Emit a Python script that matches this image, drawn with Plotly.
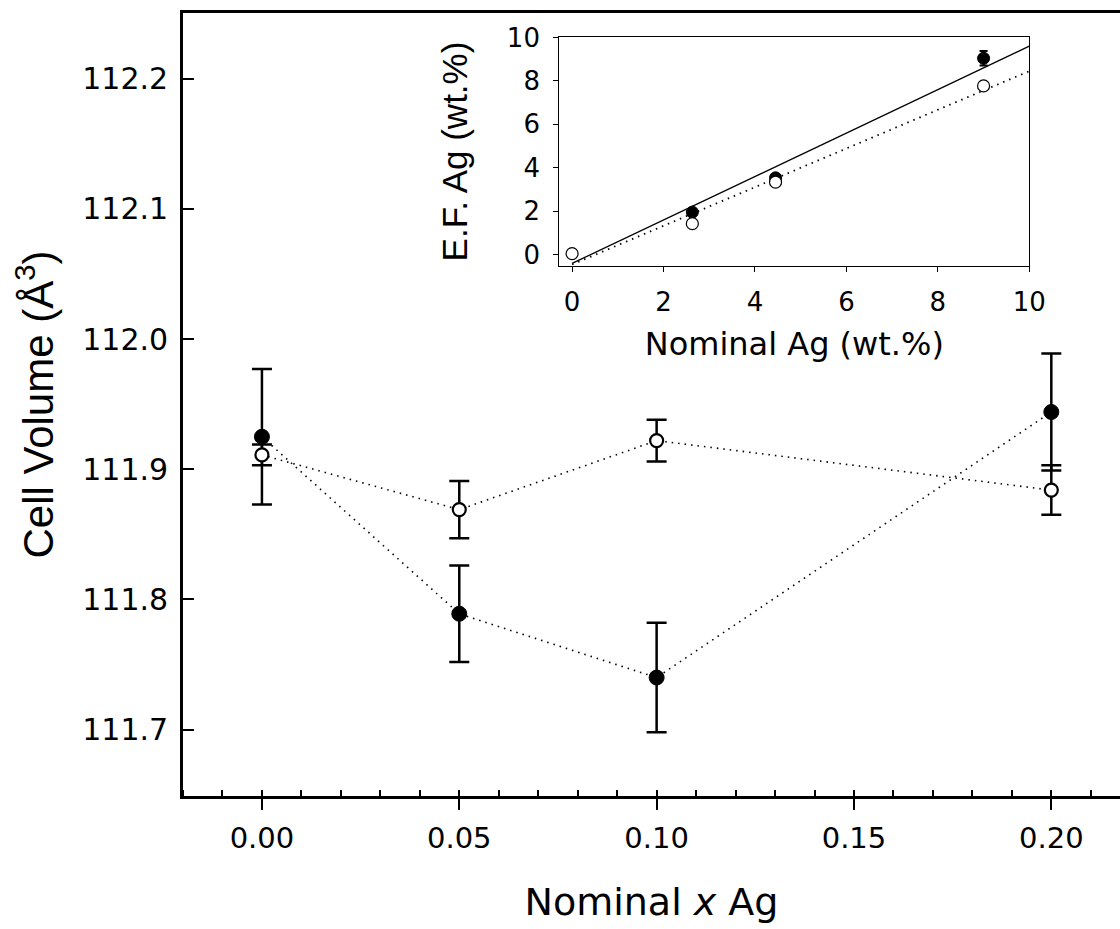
import plotly.graph_objects as go

# ---- main plot data ----
x_nominal = [0.00, 0.05, 0.10, 0.20]
vol_filled = [111.925, 111.789, 111.740, 111.944]
err_filled = [0.052, 0.037, 0.042, 0.045]
vol_open = [111.911, 111.869, 111.922, 111.884]
err_open = [0.008, 0.022, 0.016, 0.019]

main_xticks = [0.00, 0.05, 0.10, 0.15, 0.20]
main_xticklabels = ["0.00", "0.05", "0.10", "0.15", "0.20"]
main_yticks = [111.7, 111.8, 111.9, 112.0, 112.1, 112.2]
main_yticklabels = ["111.7", "111.8", "111.9", "112.0", "112.1", "112.2"]

# ---- inset data ----
inset_nom_filled = [2.63, 4.45, 9.0]
inset_ef_filled = [1.96, 3.54, 9.04]
inset_err_filled = [0.12, 0.12, 0.33]
inset_nom_open = [0.0, 2.63, 4.45, 9.0]
inset_ef_open = [0.05, 1.43, 3.34, 7.77]

fit_x = [0.0, 10.0]
fit_filled = {"slope": 1.00, "intercept": -0.40}
fit_open = {"slope": 0.89, "intercept": -0.45}

inset_ticks = [0, 2, 4, 6, 8, 10]

ARIAL = "Liberation Sans, Arial, sans-serif"
WIDE = "DejaVu Sans, sans-serif"
W, H = 1120, 929

fig = go.Figure()

# main connecting dotted lines
for yv in (vol_filled, vol_open):
    fig.add_trace(go.Scatter(x=x_nominal, y=yv, mode="lines",
                             line=dict(color="black", width=1.6, dash="1.5px,5px"),
                             showlegend=False, hoverinfo="skip"))
# main markers
fig.add_trace(go.Scatter(x=x_nominal, y=vol_filled, mode="markers",
                         marker=dict(symbol="circle", size=15, color="black",
                                     line=dict(color="black", width=1)),
                         error_y=dict(type="data", array=err_filled, color="black",
                                      thickness=2.5, width=10),
                         showlegend=False))
fig.add_trace(go.Scatter(x=x_nominal, y=vol_open, mode="markers",
                         marker=dict(symbol="circle", size=13, color="white",
                                     line=dict(color="black", width=2.2)),
                         error_y=dict(type="data", array=err_open, color="black",
                                      thickness=2.5, width=10),
                         showlegend=False))

# inset fit lines
fy_f = [fit_filled["slope"] * v + fit_filled["intercept"] for v in fit_x]
fy_o = [fit_open["slope"] * v + fit_open["intercept"] for v in fit_x]
fig.add_trace(go.Scatter(x=fit_x, y=fy_f, mode="lines", xaxis="x2", yaxis="y2",
                         line=dict(color="black", width=1.3),
                         showlegend=False, hoverinfo="skip"))
fig.add_trace(go.Scatter(x=fit_x, y=fy_o, mode="lines", xaxis="x2", yaxis="y2",
                         line=dict(color="black", width=1.8, dash="1.5px,5px"),
                         showlegend=False, hoverinfo="skip"))
fig.add_trace(go.Scatter(x=inset_nom_filled, y=inset_ef_filled, mode="markers",
                         xaxis="x2", yaxis="y2",
                         marker=dict(symbol="circle", size=12, color="black",
                                     line=dict(color="black", width=1)),
                         error_y=dict(type="data", array=inset_err_filled, color="black",
                                      thickness=2, width=4),
                         showlegend=False))
fig.add_trace(go.Scatter(x=inset_nom_open, y=inset_ef_open, mode="markers",
                         xaxis="x2", yaxis="y2",
                         marker=dict(symbol="circle", size=12, color="white",
                                     line=dict(color="black", width=1.2)),
                         showlegend=False))

fig.update_layout(
    template="none",
    width=W, height=H, autosize=False,
    margin=dict(l=183, r=0, t=13, b=133, pad=0, autoexpand=False),
    paper_bgcolor="white", plot_bgcolor="white",
    font=dict(family=ARIAL, color="black"),
    xaxis=dict(
        range=[-0.02, 0.2174], domain=[0, 1], automargin=False,
        showgrid=False, zeroline=False,
        showline=True, linecolor="black", linewidth=2.7, mirror=True,
        ticks="outside", ticklen=11, tickwidth=2, tickcolor="black",
        tickvals=main_xticks, ticktext=main_xticklabels,
        tickfont=dict(size=29, family=WIDE),
        ticklabelstandoff=3,
        minor=dict(ticks="inside", dtick=0.01, tick0=0, ticklen=6, tickwidth=1.6,
                   tickcolor="black", showgrid=False),
        title=dict(text="Nominal <i>x</i> Ag", font=dict(size=38, family=WIDE), standoff=35),
    ),
    yaxis=dict(
        range=[111.649, 112.2505], domain=[0, 1], automargin=False,
        showgrid=False, zeroline=False,
        showline=True, linecolor="black", linewidth=2.7, mirror=False,
        ticks="inside", ticklen=11, tickwidth=2, tickcolor="black",
        tickvals=main_yticks, ticktext=main_yticklabels,
        tickfont=dict(size=30, family=WIDE),
        ticklabelstandoff=6,
        title=dict(text="Cell Volume (Å<sup>3</sup>)", font=dict(size=42, family=ARIAL), standoff=16),
    ),
    xaxis2=dict(
        domain=[0.4016, 0.9032], anchor="y2", range=[-0.28, 10], automargin=False,
        showgrid=False, zeroline=False,
        showline=True, linecolor="black", linewidth=1.3, mirror=True,
        ticks="outside", ticklen=5, tickwidth=1.2, tickcolor="black",
        tickvals=inset_ticks,
        tickfont=dict(size=26, family=WIDE),
        ticklabelstandoff=8,
        title=dict(text="Nominal Ag (wt.%)", font=dict(size=32, family=WIDE), standoff=16),
    ),
    yaxis2=dict(
        domain=[0.6774, 0.9688], anchor="x2", range=[-0.5, 10], automargin=False,
        showgrid=False, zeroline=False,
        showline=True, linecolor="black", linewidth=1.3, mirror=True,
        ticks="outside", ticklen=5, tickwidth=1.2, tickcolor="black",
        tickvals=inset_ticks,
        tickfont=dict(size=26, family=WIDE),
        ticklabelstandoff=8,
        title=dict(text="E.F. Ag (wt.%)", font=dict(size=35, family=ARIAL), standoff=28),
    ),
)

post = ("document.body.style.margin='0';document.body.style.overflow='hidden';"
        "var gd=document.getElementById('{plot_id}');"
        "Plotly.relayout(gd,{width:%d,height:%d});" % (W, H))

fig.write_html("out.html",
               config={"displayModeBar": False, "responsive": False},
               post_script=post)
